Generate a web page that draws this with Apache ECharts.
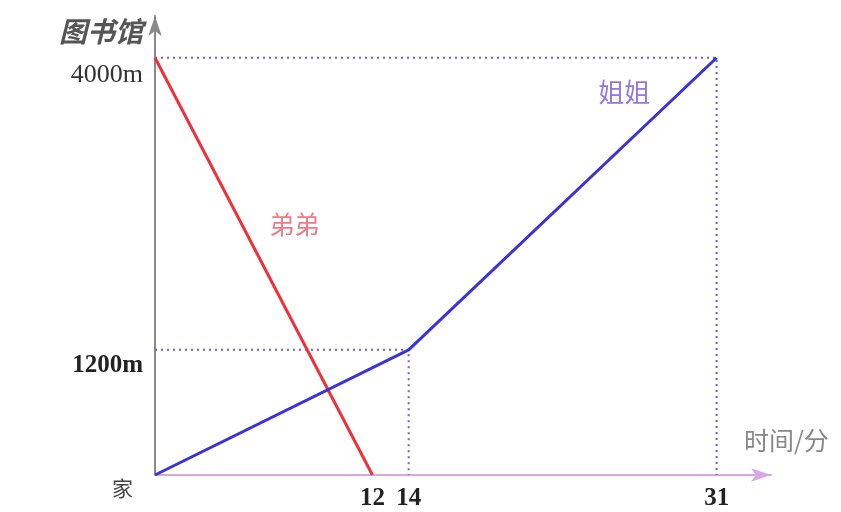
<!DOCTYPE html>
<html>
<head>
<meta charset="utf-8">
<script src="https://cdn.jsdelivr.net/npm/echarts@6/dist/echarts.min.js"></script>
<style>
  html, body { margin: 0; padding: 0; background: #fff; }
  #main { width: 841px; height: 512px; }
</style>
</head>
<body>
<div id="main"></div>
<script>
  // 时间(分) / 距离(m)
  var brotherData = [[0, 4000], [12, 0]];
  var sisterData = [[0, 0], [14, 1200], [31, 4000]];
  var guideTop = [[0, 4000], [31, 4000], [31, 0]];
  var guideMid = [[0, 1200], [14, 1200], [14, 0]];
  var xTicks = [12, 14, 31];
  var yTicks = [0, 1200, 4000, 4400];
  var yTickNames = { 0: '家', 1200: '1200m', 4000: '4000m', 4400: '图书馆' };
  var sisterLabel = ['姐姐', 25.9, 3674];
  var brotherLabel = ['弟弟', 7.7, 2398];

  var chart = echarts.init(document.getElementById('main'));
  chart.setOption({
    animation: false,
    backgroundColor: '#fff',
    grid: { left: 155, top: 16, width: 616, height: 459 },
    xAxis: {
      type: 'value',
      min: 0,
      max: 34,
      name: '时间/分',
      nameLocation: 'end',
      nameGap: -27,
      nameTextStyle: {
        fontFamily: 'Noto Sans CJK SC',
        fontSize: 25,
        color: '#888',
        align: 'left',
        verticalAlign: 'bottom',
        padding: [0, 0, 22, 0]
      },
      axisLine: {
        show: true,
        symbol: ['none', 'arrow'],
        symbolSize: [10, 20],
        lineStyle: { color: '#d9a6e3', width: 2 }
      },
      axisTick: { show: false },
      splitLine: { show: false },
      axisLabel: {
        customValues: xTicks,
        margin: 11,
        fontFamily: 'Liberation Serif',
        fontWeight: 'bold',
        fontSize: 25,
        color: '#222'
      }
    },
    yAxis: {
      type: 'value',
      min: 0,
      max: 4400,
      axisLine: {
        show: true,
        symbol: ['none', 'arrow'],
        symbolSize: [10, 20],
        lineStyle: { color: '#8a8a8a', width: 2 }
      },
      axisTick: { show: false },
      splitLine: { show: false },
      axisLabel: {
        customValues: yTicks,
        margin: 12,
        verticalAlign: 'top',
        formatter: function (v) {
          var t = yTickNames[v];
          if (v === 4400) return '{lib|' + t + '}';
          if (v === 0) return '{home|' + t + '}';
          if (v === 4000) return '{plain|' + t + '}';
          return '{bold|' + t + '}';
        },
        rich: {
          lib: { fontFamily: 'Noto Sans CJK SC', fontStyle: 'italic', fontWeight: 'bold', fontSize: 28, color: '#555', padding: [1, 0, 0, 0] },
          home: { fontFamily: 'Noto Sans CJK SC', fontSize: 21, color: '#444', padding: [3, 10, 0, 0] },
          plain: { fontFamily: 'Liberation Serif', fontSize: 26, color: '#333', padding: [4, 0, 0, 0] },
          bold: { fontFamily: 'Liberation Serif', fontWeight: 'bold', fontSize: 25, color: '#222', padding: [3, 0, 0, 0] }
        }
      }
    },
    series: [
      {
        type: 'line',
        data: guideTop,
        symbol: 'none',
        lineStyle: { color: '#6a5fd6', width: 2, type: [2, 4] },
        z: 1
      },
      {
        type: 'line',
        data: guideMid,
        symbol: 'none',
        lineStyle: { color: '#6a5fd6', width: 2, type: [2, 4] },
        z: 1
      },
      {
        name: '弟弟',
        type: 'line',
        data: brotherData,
        symbol: 'none',
        lineStyle: { color: '#f0303a', width: 3 },
        markPoint: {
          symbol: 'circle',
          symbolSize: 0,
          data: [{ coord: [brotherLabel[1], brotherLabel[2]], value: brotherLabel[0] }],
          label: {
            show: true,
            formatter: '{c}',
            fontFamily: 'Noto Sans CJK SC',
            fontSize: 25,
            color: '#ee7a86'
          }
        },
        z: 3
      },
      {
        name: '姐姐',
        type: 'line',
        data: sisterData,
        symbol: 'none',
        lineStyle: { color: '#3a34d8', width: 3 },
        markPoint: {
          symbol: 'circle',
          symbolSize: 0,
          data: [{ coord: [sisterLabel[1], sisterLabel[2]], value: sisterLabel[0] }],
          label: {
            show: true,
            formatter: '{c}',
            fontFamily: 'Noto Sans CJK SC',
            fontSize: 26,
            color: '#9278e0'
          }
        },
        z: 3
      }
    ]
  });
</script>
</body>
</html>
